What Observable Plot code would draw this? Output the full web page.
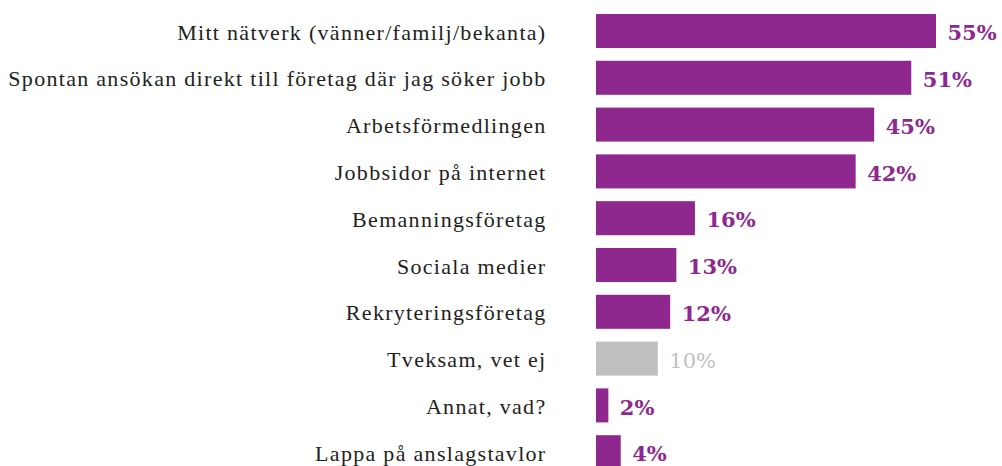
<!DOCTYPE html>
<html><head><meta charset="utf-8">
<script src="https://cdn.jsdelivr.net/npm/d3@7"></script>
<script src="https://cdn.jsdelivr.net/npm/@observablehq/plot@0.6"></script>
<style>
html,body{margin:0;padding:0;background:#fff;}
.cat-label text{letter-spacing:1.3px;}
</style>
</head><body>
<div id="chart"></div>
<script>
const categories = [
  "Mitt nätverk (vänner/familj/bekanta)",
  "Spontan ansökan direkt till företag där jag söker jobb",
  "Arbetsförmedlingen",
  "Jobbsidor på internet",
  "Bemanningsföretag",
  "Sociala medier",
  "Rekryteringsföretag",
  "Tveksam, vet ej",
  "Annat, vad?",
  "Lappa på anslagstavlor"
];
const values = [55, 51, 45, 42, 16, 13, 12, 10, 2, 4];
const mutedCategory = "Tveksam, vet ej";

const data = categories.map((c, i) => ({category: c, value: values[i]}));
const purple = "#8e288e";
const grey = "#bfbfbf";
const colorOf = d => d.category === mutedCategory ? grey : purple;
const mainData = data.filter(d => d.category !== mutedCategory);
const mutedData = data.filter(d => d.category === mutedCategory);

const chart = Plot.plot({
  width: 1002,
  height: 466,
  marginLeft: 596,
  marginRight: 66,
  marginTop: 1.2,
  marginBottom: -16,
  style: {fontFamily: "'Liberation Serif', serif", background: "#fff", overflow: "hidden"},
  x: {domain: [0, 55], axis: null},
  y: {domain: categories, padding: 0.273, round: false, label: null, axis: null},
  marks: [
    Plot.barX(data, {x: "value", y: "category", fill: colorOf}),
    Plot.text(data, {
      y: "category", text: "category", frameAnchor: "left",
      textAnchor: "end", dx: -50, dy: 1,
      fill: "#222", fontSize: 22,
      fontFamily: "'Liberation Serif', serif",
      className: "cat-label"
    }),
    Plot.text(mainData, {
      x: "value", y: "category", text: d => d.value + "%",
      textAnchor: "start", dx: 11, dy: 2,
      fill: purple, fontSize: 21, fontWeight: "bold",
      fontFamily: "'DejaVu Serif', serif"
    }),
    Plot.text(mutedData, {
      x: "value", y: "category", text: d => d.value + "%",
      textAnchor: "start", dx: 11, dy: 2,
      fill: grey, fontSize: 21, fontWeight: "normal",
      fontFamily: "'DejaVu Serif', serif"
    })
  ]
});
document.getElementById("chart").appendChild(chart);
</script>
</body></html>
